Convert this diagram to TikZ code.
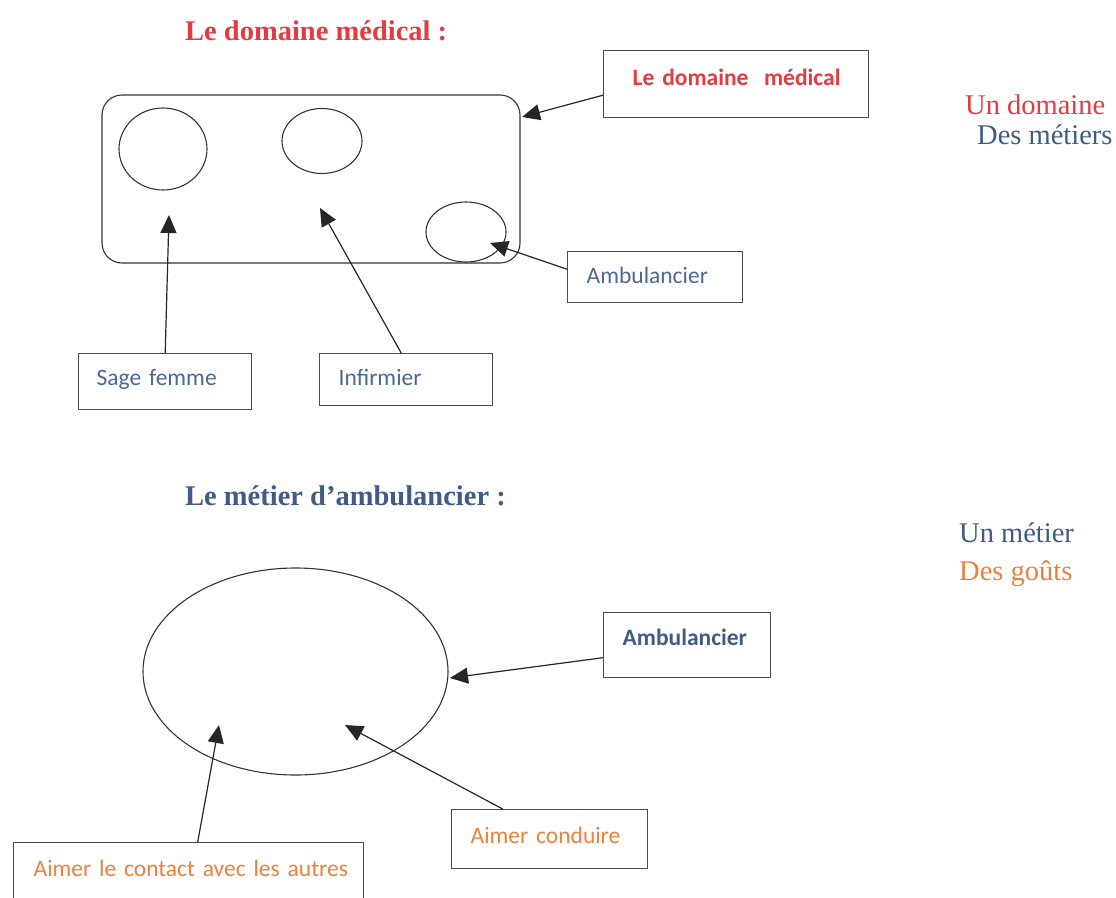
\documentclass[tikz,border=0pt]{standalone}
\usepackage{fontspec}
\setmainfont{Liberation Serif}
\newfontfamily\calfont{Carlito}
\usetikzlibrary{arrows.meta,shapes.geometric}
\definecolor{tred}{RGB}{228,58,66}
\definecolor{tblue}{RGB}{62,92,134}
\definecolor{lblue}{RGB}{76,104,148}
\definecolor{torange}{RGB}{236,128,62}
\begin{document}
\begin{tikzpicture}[x=1pt,y=-1pt,
  shp/.style={draw=black!80, line width=1.1pt, inner sep=0pt},
  oval/.style={shp, ellipse},
  box/.style={draw=black!70, line width=1.4pt, anchor=north west, inner ysep=0pt,
    align=left, font=\calfont\fontsize{23.5}{26}\selectfont},
  arr/.style={draw=black!85, line width=1.2pt, -{Triangle[length=18pt,width=16pt]}},
  title/.style={anchor=base west, inner sep=0pt, font=\bfseries\fontsize{28.5}{30}\selectfont},
  side/.style={anchor=base west, inner sep=0pt, font=\fontsize{28.5}{30}\selectfont}]
\useasboundingbox (0,0) rectangle (1116,897);
\clip (0,0) rectangle (1116,897);

% ---- titles and side texts
\node[title, text=tred] (t1) at (185,40) {Le domaine médical :};
\node[title, text=tblue] (t2) at (185,505) {Le métier d’ambulancier :};
\node[side, text=tred] (s1) at (965,114) {Un domaine};
\node[side, text=tblue] (s2) at (977,144) {Des métiers};
\node[side, text=tblue] (s3) at (959,542) {Un métier};
\node[side, text=torange] (s4) at (959,580) {Des goûts};

% ---- domain diagram
\node[shp, rounded corners=20pt, minimum width=418pt, minimum height=168pt] (dr) at (311,179) {};
\node[oval, minimum width=88pt, minimum height=82pt] (c1) at (163,149) {};
\node[oval, minimum width=80pt, minimum height=65pt] (c2) at (322,141) {};
\node[oval, minimum width=80pt, minimum height=60pt] (c3) at (466,232) {};

\node[box, text=tred, font=\calfont\bfseries\fontsize{23.5}{26}\selectfont,
  inner xsep=29pt, text width=207pt, text height=35pt, text depth=32pt] (dom) at (603,50) {\mbox{Le domaine\ \ médical}};
\node[box, text=lblue, inner xsep=19pt, text width=137pt, text height=32pt, text depth=19pt] (amb1) at (567,251) {\mbox{Ambulancier}};
\node[box, text=lblue, inner xsep=18pt, text width=137pt, text height=32pt, text depth=24pt] (sage) at (78,353) {\mbox{Sage femme}};
\node[box, text=lblue, inner xsep=19pt, text width=135pt, text height=32pt, text depth=20pt] (inf) at (319,353) {\mbox{Infirmier}};

\coordinate (p1) at (522,117);
\coordinate (p2) at (490,243);
\coordinate (p3) at (169,215);
\coordinate (p4) at (320,208);
\draw[arr] ([yshift=-11pt]dom.west) -- (p1);
\draw[arr] ([yshift=8pt]amb1.west) -- (p2);
\draw[arr] (sage.north) -- (p3);
\draw[arr] ([xshift=-5pt]inf.north) -- (p4);

% ---- job diagram
\node[oval, minimum width=305pt, minimum height=207pt] (big) at (295.5,671.5) {};
\node[box, text=tblue, font=\calfont\bfseries\fontsize{23.5}{26}\selectfont,
  inner xsep=19pt, text width=129pt, text height=33pt, text depth=32pt] (amb2) at (603,612) {\mbox{Ambulancier}};
\node[box, text=torange, inner xsep=19pt, text width=158pt, text height=34pt, text depth=25pt] (cond) at (451,809) {\mbox{Aimer conduire}};
\node[box, text=torange, inner xsep=20pt, text width=310pt, text height=34pt, text depth=60pt] (cont) at (13,842) {\mbox{Aimer le contact avec les autres}};

\coordinate (q1) at (450,678);
\coordinate (q2) at (219,725);
\coordinate (q3) at (345,725);
\draw[arr] ([yshift=-12.5pt]amb2.west) -- (q1);
\draw[arr] ([xshift=9pt]cont.north) -- (q2);
\draw[arr] ([xshift=-47pt]cond.north) -- (q3);
\end{tikzpicture}
\end{document}
